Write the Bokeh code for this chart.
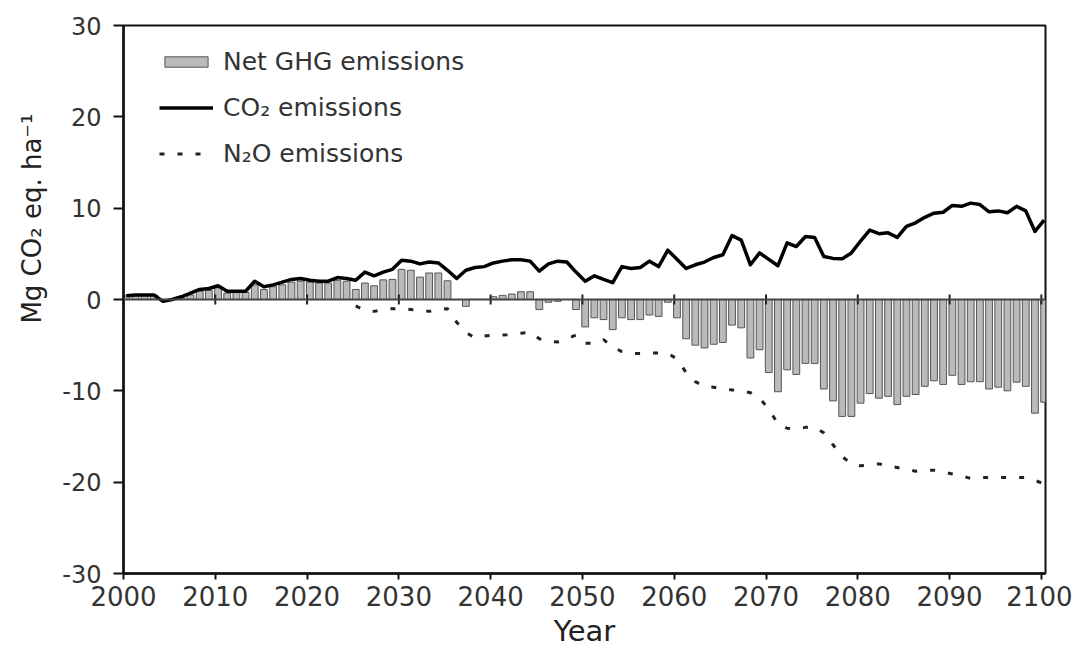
import numpy as np
from bokeh.plotting import figure
from bokeh.models import Range1d, Span, Title, Legend, LegendItem, FixedTicker, ColumnDataSource
from bokeh.transform import dodge
from bokeh.embed import file_html
from bokeh.resources import INLINE

# ---- data ----
years = list(range(2000, 2101))
net_ghg = [0.4, 0.5, 0.5, 0.5, 0.0, 0.0, 0.2, 0.5, 0.9, 1.0,
           1.3, 0.7, 0.8, 0.8, 1.6, 1.1, 1.4, 1.6, 1.9, 2.0,
           1.9, 1.8, 1.8, 2.1, 2.0, 1.1, 1.8, 1.5, 2.15, 2.2,
           3.3, 3.2, 2.45, 2.9, 2.9, 2.05, 0.0, -0.75, 0.0, 0.0,
           0.3, 0.45, 0.6, 0.85, 0.85, -1.1, -0.3, -0.2, 0.0, -1.1,
           -3.0, -2.0, -2.2, -3.3, -2.0, -2.2, -2.2, -1.7, -1.85, -0.3,
           -2.0, -4.3, -5.0, -5.3, -4.9, -4.7, -2.8, -3.1, -6.4, -5.5,
           -8.0, -10.1, -7.7, -8.2, -7.0, -7.0, -9.8, -11.1, -12.8, -12.8,
           -11.35, -10.3, -10.8, -10.6, -11.5, -10.6, -10.4, -9.5, -8.9, -9.3,
           -8.3, -9.3, -9.0, -9.0, -9.8, -9.6, -10.0, -9.05, -9.5, -12.45,
           -11.25]
co2 = [0.4, 0.5, 0.5, 0.5, -0.2, 0.0, 0.3, 0.7, 1.1, 1.2,
       1.5, 0.9, 0.9, 0.9, 2.0, 1.4, 1.6, 1.9, 2.2, 2.3,
       2.1, 2.0, 2.0, 2.4, 2.3, 2.1, 3.0, 2.6, 3.0, 3.3,
       4.3, 4.2, 3.9, 4.1, 4.0, 3.2, 2.3, 3.2, 3.5, 3.6,
       4.0, 4.2, 4.35, 4.35, 4.2, 3.1, 3.9, 4.2, 4.1, 3.0,
       2.0, 2.6, 2.2, 1.85, 3.6, 3.4, 3.5, 4.2, 3.6, 5.4,
       4.4, 3.4, 3.8, 4.1, 4.6, 4.9, 7.0, 6.5, 3.8, 5.1,
       4.4, 3.7, 6.2, 5.8, 6.9, 6.8, 4.7, 4.5, 4.45, 5.1,
       6.4, 7.6, 7.2, 7.3, 6.8, 8.0, 8.4, 9.0, 9.45, 9.55,
       10.3, 10.2, 10.55, 10.4, 9.6, 9.7, 9.5, 10.2, 9.7, 7.45,
       8.7]
n2o_years = list(range(2025, 2101))
n2o = [-0.7, -1.2, -1.3, -1.1, -1.0,
       -1.0, -1.1, -1.2, -1.3, -1.1, -1.0, -2.5, -3.6, -4.2, -4.0,
       -3.9, -3.9, -3.85, -3.7, -3.6, -4.3, -4.6, -4.65, -4.3, -3.9,
       -4.8, -4.8, -4.4, -5.2, -5.7, -5.9, -5.9, -5.85, -5.85, -5.9,
       -6.5, -8.0, -9.0, -9.5, -9.6, -9.8, -9.9, -10.0, -10.2, -10.8,
       -12.0, -13.6, -14.1, -14.2, -14.0, -14.0, -14.6, -15.9, -17.2, -18.0,
       -18.2, -18.1, -18.0, -18.2, -18.4, -18.6, -18.8, -18.7, -18.7, -18.9,
       -19.1, -19.3, -19.6, -19.5, -19.5, -19.5, -19.5, -19.5, -19.5, -19.8,
       -20.2]
x_ticks = list(range(2000, 2101, 10))
y_ticks = list(range(-30, 31, 10))

FONT = "DejaVu Sans"

src = ColumnDataSource(dict(year=years, net=net_ghg, co2=co2))
src_n2o = ColumnDataSource(dict(year=n2o_years, n2o=n2o))
src_ticks = ColumnDataSource(dict(x=x_ticks, y=[0] * len(x_ticks)))

p = figure(width=1072, height=655, output_backend="svg", toolbar_location=None,
           x_range=Range1d(2000, 2100.45), y_range=Range1d(-30, 30),
           min_border_left=123, min_border_top=25, min_border_right=27, min_border_bottom=82)
p.background_fill_color = "white"
p.border_fill_color = "white"
p.outline_line_color = "#111111"
p.outline_line_width = 2
p.grid.visible = False

bars = p.vbar(x=dodge("year", 0.3, range=p.x_range), top="net", bottom=0, width=0.74,
              source=src, fill_color="#bababa", line_color="#555555", line_width=1)
p.add_layout(Span(location=0, dimension="width", line_color="#444444", line_width=2))
p.scatter(x="x", y="y", source=src_ticks, marker="dash", angle=np.pi / 2, size=10,
          line_color="#222222", line_width=2)
co2_line = p.line(x=dodge("year", 0.3, range=p.x_range), y="co2", source=src,
                  line_color="black", line_width=3.5, line_join="round")
n2o_line = p.line(x=dodge("year", 0.3, range=p.x_range), y="n2o", source=src_n2o,
                  line_color="#222222", line_width=3, line_dash="5 13")

for ax in (p.xaxis[0], p.yaxis[0]):
    ax.axis_line_width = 2.5
    ax.axis_line_color = "#111111"
    ax.major_tick_line_width = 2
    ax.major_tick_line_color = "#111111"
    ax.major_tick_in = 0
    ax.minor_tick_line_color = None
    ax.major_label_text_font = FONT
    ax.major_label_text_color = "#333333"
    ax.major_label_text_font_style = "normal"

p.xaxis[0].ticker = FixedTicker(ticks=x_ticks)
p.yaxis[0].ticker = FixedTicker(ticks=y_ticks)
p.yaxis[0].major_label_overrides = {t: str(t) for t in y_ticks}
p.xaxis[0].major_tick_out = 6
p.yaxis[0].major_tick_out = 10
p.xaxis[0].major_label_text_font_size = "26px"
p.yaxis[0].major_label_text_font_size = "24px"
p.xaxis[0].major_label_standoff = 6
p.yaxis[0].major_label_standoff = 12
p.xaxis[0].axis_label = "Year"
p.xaxis[0].axis_label_text_font = FONT
p.xaxis[0].axis_label_text_font_size = "29px"
p.xaxis[0].axis_label_text_font_style = "normal"
p.xaxis[0].axis_label_text_color = "#222222"
p.xaxis[0].axis_label_standoff = 5

ytitle = Title(text="Mg CO\u2082 eq. ha\u207b\u00b9", align="right", offset=88, standoff=26,
               text_font=FONT, text_font_size="26px", text_font_style="normal",
               text_color="#222222")
p.add_layout(ytitle, "left")

legend = Legend(items=[LegendItem(label="Net GHG emissions", renderers=[bars]),
                       LegendItem(label="CO\u2082 emissions", renderers=[co2_line]),
                       LegendItem(label="N\u2082O emissions", renderers=[n2o_line])],
                location=(36, 405), orientation="vertical")
legend.border_line_color = None
legend.background_fill_alpha = 0
legend.padding = 0
legend.margin = 0
legend.spacing = 17
legend.glyph_width = 54
legend.glyph_height = 13
legend.label_standoff = 10
legend.label_text_font = FONT
legend.label_text_font_size = "25px"
legend.label_text_color = "#333333"
p.add_layout(legend)

open("out.html", "w").write(file_html(p, INLINE))
